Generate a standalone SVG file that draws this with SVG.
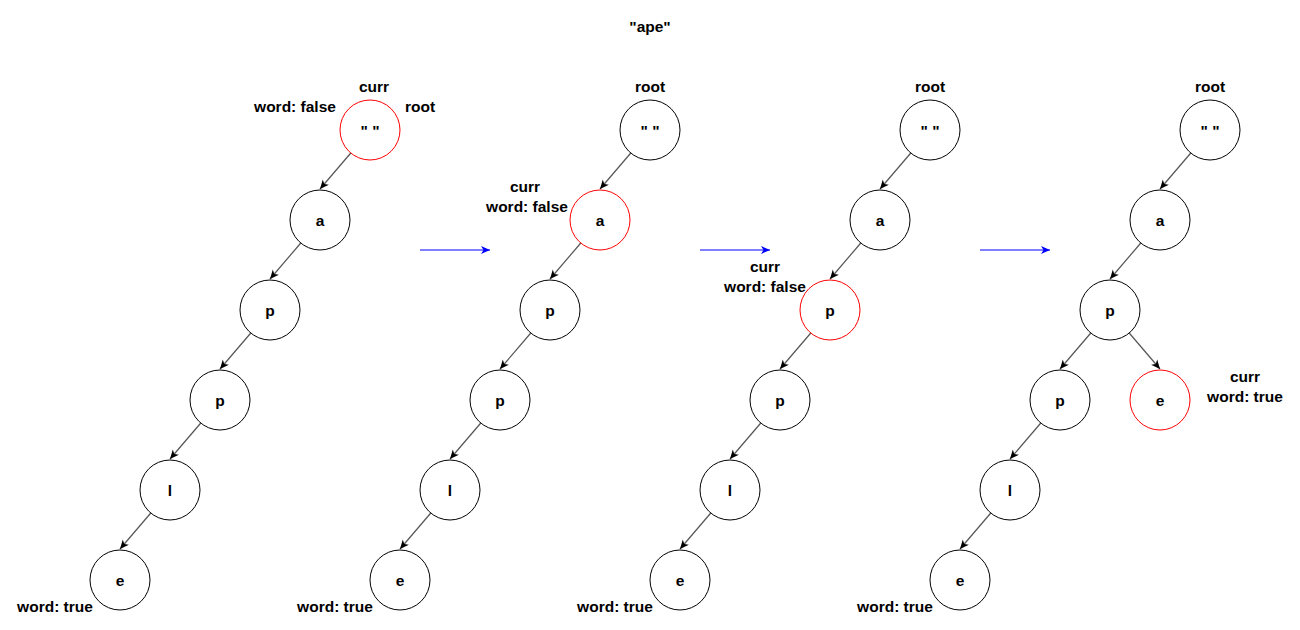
<svg xmlns="http://www.w3.org/2000/svg" width="1300" height="630" viewBox="0 0 1300 630">
<style>
text{font-family:"Liberation Sans",Arial,sans-serif;font-size:15.5px;font-weight:bold;fill:#000;text-anchor:middle;dominant-baseline:central}
.n{fill:#fff;stroke:#000;stroke-width:1}
.c{fill:#fff;stroke:#ff0000;stroke-width:1}
.e{stroke:#555;stroke-width:1.2;fill:none;marker-end:url(#ag)}
.b{stroke:#0000ff;stroke-width:1.2;fill:none;marker-end:url(#ab)}
</style>
<defs>
<marker id="ag" markerUnits="userSpaceOnUse" markerWidth="10" markerHeight="10" viewBox="0 0 10 8" refX="9" refY="4" orient="auto"><path d="M0,0 L9,4 L0,8 L2.5,4 z" fill="#000"/></marker>
<marker id="ab" markerUnits="userSpaceOnUse" markerWidth="10" markerHeight="10" viewBox="0 0 10 8" refX="9" refY="4" orient="auto"><path d="M0,0 L9,4 L0,8 L2.5,4 z" fill="#0000ff"/></marker>
</defs>
<rect width="1300" height="630" fill="#fff"/>
<text x="650" y="26">"ape"</text>

<g id="connectors">
<line class="e" x1="350.8" y1="153" x2="320" y2="189"/>
<line class="e" x1="300.8" y1="243" x2="270" y2="279"/>
<line class="e" x1="250.8" y1="333" x2="220" y2="369"/>
<line class="e" x1="200.8" y1="423" x2="170" y2="459"/>
<line class="e" x1="150.8" y1="513" x2="120" y2="549"/>

<line class="e" x1="630.8" y1="153" x2="600" y2="189"/>
<line class="e" x1="580.8" y1="243" x2="550" y2="279"/>
<line class="e" x1="530.8" y1="333" x2="500" y2="369"/>
<line class="e" x1="480.8" y1="423" x2="450" y2="459"/>
<line class="e" x1="430.8" y1="513" x2="400" y2="549"/>

<line class="e" x1="910.8" y1="153" x2="880" y2="189"/>
<line class="e" x1="860.8" y1="243" x2="830" y2="279"/>
<line class="e" x1="810.8" y1="333" x2="780" y2="369"/>
<line class="e" x1="760.8" y1="423" x2="730" y2="459"/>
<line class="e" x1="710.8" y1="513" x2="680" y2="549"/>

<line class="e" x1="1190.8" y1="153" x2="1160" y2="189"/>
<line class="e" x1="1140.8" y1="243" x2="1110" y2="279"/>
<line class="e" x1="1090.8" y1="333" x2="1060" y2="369"/>
<line class="e" x1="1129.2" y1="333" x2="1160" y2="369"/>
<line class="e" x1="1040.8" y1="423" x2="1010" y2="459"/>
<line class="e" x1="990.8" y1="513" x2="960" y2="549"/>

<line class="b" x1="420" y1="250" x2="490" y2="250"/>
<line class="b" x1="700" y1="250" x2="770" y2="250"/>
<line class="b" x1="980" y1="250" x2="1050" y2="250"/>
</g>

<g id="t1-root"><circle class="c" cx="370" cy="130" r="30"/><text x="370" y="130">" "</text></g>
<g id="t1-a"><circle class="n" cx="320" cy="220" r="30"/><text x="320" y="220">a</text></g>
<g id="t1-p1"><circle class="n" cx="270" cy="310" r="30"/><text x="270" y="310">p</text></g>
<g id="t1-p2"><circle class="n" cx="220" cy="400" r="30"/><text x="220" y="400">p</text></g>
<g id="t1-l"><circle class="n" cx="170" cy="490" r="30"/><text x="170" y="490">l</text></g>
<g id="t1-e"><circle class="n" cx="120" cy="580" r="30"/><text x="120" y="580">e</text></g>
<g id="t1-labels">
<text x="374" y="86">curr</text>
<text x="295" y="106">word: false</text>
<text x="420" y="106">root</text>
<text x="55" y="606">word: true</text>
</g>

<g id="t2-root"><circle class="n" cx="650" cy="130" r="30"/><text x="650" y="130">" "</text></g>
<g id="t2-a"><circle class="c" cx="600" cy="220" r="30"/><text x="600" y="220">a</text></g>
<g id="t2-p1"><circle class="n" cx="550" cy="310" r="30"/><text x="550" y="310">p</text></g>
<g id="t2-p2"><circle class="n" cx="500" cy="400" r="30"/><text x="500" y="400">p</text></g>
<g id="t2-l"><circle class="n" cx="450" cy="490" r="30"/><text x="450" y="490">l</text></g>
<g id="t2-e"><circle class="n" cx="400" cy="580" r="30"/><text x="400" y="580">e</text></g>
<g id="t2-labels">
<text x="650" y="86">root</text>
<text x="525" y="186">curr</text>
<text x="527" y="206">word: false</text>
<text x="335" y="606">word: true</text>
</g>

<g id="t3-root"><circle class="n" cx="930" cy="130" r="30"/><text x="930" y="130">" "</text></g>
<g id="t3-a"><circle class="n" cx="880" cy="220" r="30"/><text x="880" y="220">a</text></g>
<g id="t3-p1"><circle class="c" cx="830" cy="310" r="30"/><text x="830" y="310">p</text></g>
<g id="t3-p2"><circle class="n" cx="780" cy="400" r="30"/><text x="780" y="400">p</text></g>
<g id="t3-l"><circle class="n" cx="730" cy="490" r="30"/><text x="730" y="490">l</text></g>
<g id="t3-e"><circle class="n" cx="680" cy="580" r="30"/><text x="680" y="580">e</text></g>
<g id="t3-labels">
<text x="930" y="86">root</text>
<text x="765" y="266">curr</text>
<text x="765" y="286">word: false</text>
<text x="615" y="606">word: true</text>
</g>

<g id="t4-root"><circle class="n" cx="1210" cy="130" r="30"/><text x="1210" y="130">" "</text></g>
<g id="t4-a"><circle class="n" cx="1160" cy="220" r="30"/><text x="1160" y="220">a</text></g>
<g id="t4-p1"><circle class="n" cx="1110" cy="310" r="30"/><text x="1110" y="310">p</text></g>
<g id="t4-p2"><circle class="n" cx="1060" cy="400" r="30"/><text x="1060" y="400">p</text></g>
<g id="t4-e2"><circle class="c" cx="1160" cy="400" r="30"/><text x="1160" y="400">e</text></g>
<g id="t4-l"><circle class="n" cx="1010" cy="490" r="30"/><text x="1010" y="490">l</text></g>
<g id="t4-e"><circle class="n" cx="960" cy="580" r="30"/><text x="960" y="580">e</text></g>
<g id="t4-labels">
<text x="1210" y="86">root</text>
<text x="1245" y="376">curr</text>
<text x="1245" y="396">word: true</text>
<text x="895" y="606">word: true</text>
</g>
</svg>
